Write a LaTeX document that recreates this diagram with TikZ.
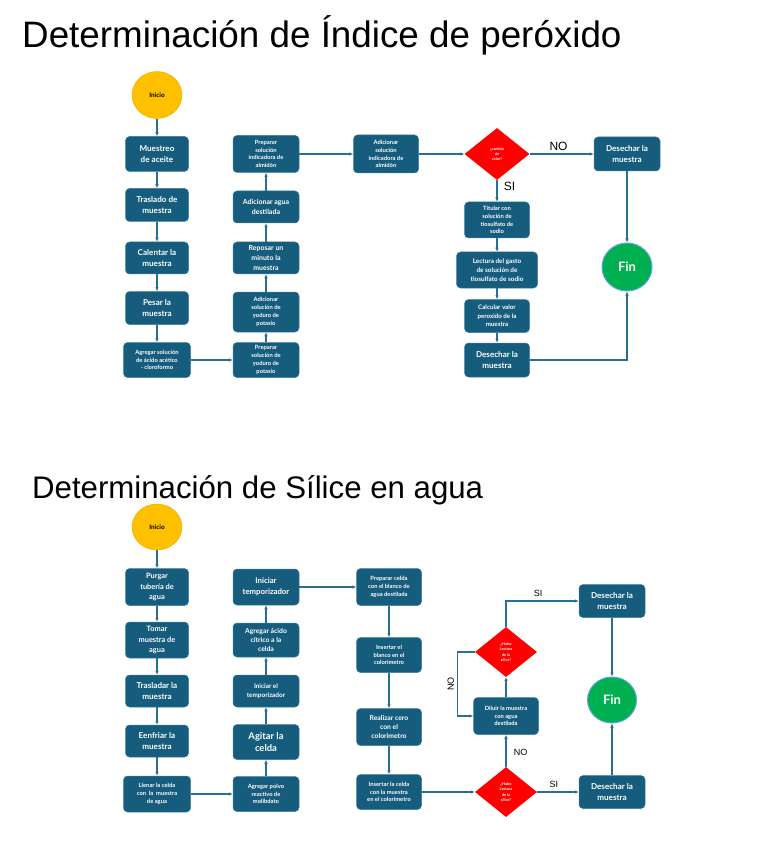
\documentclass[tikz,border=0pt]{standalone}
\usepackage{fontspec}
\setmainfont{Liberation Sans}
\newfontfamily\boxfont{Lato}
\usetikzlibrary{shapes.geometric,arrows.meta}
\definecolor{boxblue}{HTML}{165C7D}
\definecolor{boxedge}{HTML}{3D7FA0}
\definecolor{lineblue}{HTML}{2A6F93}
\definecolor{startyellow}{HTML}{FFC000}
\definecolor{fingreen}{HTML}{00B050}
\definecolor{finedge}{HTML}{5BA8D8}
\definecolor{decred}{HTML}{FF0000}
\tikzset{
  box/.style={draw=boxedge, line width=0.5pt, fill=boxblue, rounded corners=4pt, text=white, align=center, inner sep=1pt},
  fbig/.style={font=\boxfont\bfseries\fontsize{8.1}{11.2}\selectfont},
  fmed/.style={font=\boxfont\bfseries\fontsize{7}{9.8}\selectfont},
  fsmall/.style={font=\boxfont\bfseries\fontsize{5.8}{7.8}\selectfont},
  startnode/.style={ellipse, fill=startyellow, draw=startyellow!90!black, line width=0.4pt, text=black, font=\boxfont\bfseries\fontsize{6.4}{7}\selectfont, inner sep=0pt},
  finnode/.style={ellipse, fill=fingreen, draw=finedge, line width=1pt, text=white, font=\boxfont\bfseries\fontsize{13}{14}\selectfont, inner sep=0pt},
  decision/.style={diamond, fill=decred, draw=none, text=white, align=center, inner sep=0pt, font=\boxfont\bfseries\fontsize{3.8}{5.3}\selectfont},
  arr/.style={draw=lineblue, line width=1.1pt, -{Latex[length=4pt,width=3.6pt]}},
  lbl/.style={font=\fontsize{12}{14}\selectfont, text=black},
  lbls/.style={font=\fontsize{9}{11}\selectfont, text=black},
}
\begin{document}
\begin{tikzpicture}[x=1pt,y=-1pt]
\useasboundingbox (0,0) rectangle (768,866);
\fill[white] (0,0) rectangle (768,866);

% ---------------- Titles ----------------
\node[anchor=base west, inner sep=0pt, font=\fontsize{36.8}{40}\selectfont] (title1) at (22,48) {Determinación de Índice de peróxido};
\node[anchor=base west, inner sep=0pt, font=\fontsize{31.2}{36}\selectfont] (title2) at (32,498) {Determinación de Sílice en agua};

% ---------------- Top diagram ----------------
\node[startnode, minimum width=50, minimum height=47] (ini1) at (157,95) {Inicio};
\node[box, fbig, minimum width=63, minimum height=35] (m1) at (157,154) {Muestreo\\de aceite};
\node[box, fbig, minimum width=63, minimum height=33] (m2) at (157,205) {Traslado de\\muestra};
\node[box, fbig, minimum width=63, minimum height=32] (m3) at (157,258) {Calentar la\\muestra};
\node[box, fbig, minimum width=63, minimum height=33] (m4) at (157,308) {Pesar la\\muestra};
\node[box, fsmall, minimum width=67, minimum height=35] (m5) at (157,360) {Agregar solución\\de ácido acético\\- cloroformo};

\node[box, fsmall, minimum width=66, minimum height=35] (b5) at (266,360) {Preparar\\solución de\\yoduro de\\potasio};
\node[box, fsmall, minimum width=66, minimum height=40] (b4) at (266,312) {Adicionar\\solución de\\yoduro de\\potasio};
\node[box, fmed, minimum width=66, minimum height=32] (b3) at (266,258) {Reposar un\\minuto la\\muestra};
\node[box, fmed, minimum width=66, minimum height=32] (b2) at (266,207) {Adicionar agua\\destilada};
\node[box, fsmall, minimum width=66, minimum height=37] (b1) at (266,154) {Preparar\\solución\\indicadora de\\almidón};

\node[box, fsmall, minimum width=65, minimum height=38] (c1) at (386,154) {Adicionar\\solución\\indicadora de\\almidón};
\node[decision, minimum width=65, minimum height=52] (d1) at (497,154) {¿cambio\\de\\color?};
\node[box, fbig, minimum width=66, minimum height=34] (e1) at (627,154) {Desechar la\\muestra};

\node[box, fsmall, minimum width=65, minimum height=36] (t1) at (497,220) {Titular con\\solución de\\tiosulfato de\\sodio};
\node[box, fsmall, font=\boxfont\bfseries\fontsize{6.4}{8.8}\selectfont, minimum width=81, minimum height=36] (t2) at (497,270) {Lectura del gasto\\de solución de\\tiosulfato de sodio};
\node[box, fsmall, font=\boxfont\bfseries\fontsize{6.2}{8.6}\selectfont, minimum width=65, minimum height=33] (t3) at (497,316) {Calcular valor\\peroxido de la\\muestra};
\node[box, fbig, minimum width=65, minimum height=34] (t4) at (497,360) {Desechar la\\muestra};

\node[finnode, minimum width=50, minimum height=48] (fin1) at (627,267) {Fin};

\draw[arr] (ini1) -- (m1);
\draw[arr] (m1) -- (m2);
\draw[arr] (m2) -- (m3);
\draw[arr] (m3) -- (m4);
\draw[arr] (m4) -- (m5);
\draw[arr] (m5) -- (b5);
\draw[arr] (b5) -- (b4);
\draw[arr] (b4) -- (b3);
\draw[arr] (b3) -- (b2);
\draw[arr] (b2) -- (b1);
\draw[arr] (b1) -- (c1);
\draw[arr] (c1) -- (d1);
\draw[arr] (d1) -- node[lbl, above=-1pt, pos=0.45] {NO} (e1);
\draw[arr] (d1) -- node[lbl, right=3pt, pos=0.3] {SI} (t1);
\draw[arr] (t1) -- (t2);
\draw[arr] (t2) -- (t3);
\draw[arr] (t3) -- (t4);
\draw[arr] (e1) -- (fin1);
\draw[arr] (t4.east) -| (fin1.south);

% ---------------- Bottom diagram ----------------
\node[startnode, minimum width=50, minimum height=46] (ini2) at (157,527) {Inicio};
\node[box, fmed, font=\boxfont\bfseries\fontsize{7.4}{10.2}\selectfont, minimum width=63, minimum height=37] (s1) at (157,587) {Purgar\\tubería de\\agua};
\node[box, fmed, font=\boxfont\bfseries\fontsize{7.4}{10.2}\selectfont, minimum width=63, minimum height=36] (s2) at (157,640) {Tomar\\muestra de\\agua};
\node[box, fbig, minimum width=63, minimum height=32] (s3) at (157,691) {Trasladar la\\muestra};
\node[box, fbig, minimum width=63, minimum height=32] (s4) at (157,741) {Eenfriar la\\muestra};
\node[box, fsmall, minimum width=67, minimum height=36] (s5) at (157,794) {Llenar la celda\\con\ \ la\ \ muestra\\de agua};

\node[box, fsmall, minimum width=66, minimum height=35] (r5) at (266,794) {Agregar polvo\\reactivo de\\molibdato};
\node[box, fbig, font=\boxfont\bfseries\fontsize{9.4}{12.4}\selectfont, minimum width=66, minimum height=35] (r4) at (266,742) {Agitar la\\celda};
\node[box, fsmall, font=\boxfont\bfseries\fontsize{6.4}{9.2}\selectfont, minimum width=66, minimum height=32] (r3) at (266,691) {Iniciar el\\temporizador};
\node[box, fmed, font=\boxfont\bfseries\fontsize{6.8}{9.2}\selectfont, minimum width=66, minimum height=34] (r2) at (266,640) {Agregar ácido\\cítrico a la\\celda};
\node[box, fmed, font=\boxfont\bfseries\fontsize{7.8}{10.8}\selectfont, minimum width=66, minimum height=36] (r1) at (266,587) {Iniciar\\temporizador};

\node[box, fsmall, minimum width=65, minimum height=37] (p1) at (389,587) {Preparar celda\\con el blanco de\\agua destilada};
\node[box, fsmall, minimum width=65, minimum height=35] (p2) at (389,655) {Insertar el\\blanco en el\\colorimetro};
\node[box, fmed, font=\boxfont\bfseries\fontsize{6.8}{9.4}\selectfont, minimum width=65, minimum height=37] (p3) at (389,727) {Realizar cero\\con el\\colorimetro};
\node[box, fsmall, minimum width=65, minimum height=35] (p4) at (389,792) {Insertar la celda\\con la muestra\\en el colorimetro};

\node[decision, minimum width=62, minimum height=50] (q1) at (506,792) {¿Hubo\\Lectura\\de la\\sílice?};
\node[box, fsmall, minimum width=65, minimum height=37] (dil) at (506,716) {Diluir la muestra\\con agua\\destilada};
\node[decision, minimum width=62, minimum height=50] (q2) at (506,652) {¿Hubo\\Lectura\\de la\\sílice?};
\node[box, fbig, minimum width=66, minimum height=33] (z1) at (612,601) {Desechar la\\muestra};
\node[box, fbig, minimum width=66, minimum height=33] (z2) at (612,792) {Desechar la\\muestra};
\node[finnode, minimum width=49, minimum height=46] (fin2) at (612,700) {Fin};

\draw[arr] (ini2) -- (s1);
\draw[arr] (s1) -- (s2);
\draw[arr] (s2) -- (s3);
\draw[arr] (s3) -- (s4);
\draw[arr] (s4) -- (s5);
\draw[arr] (s5) -- (r5);
\draw[arr] (r5) -- (r4);
\draw[arr] (r4) -- (r3);
\draw[arr] (r3) -- (r2);
\draw[arr] (r2) -- (r1);
\draw[arr] (r1) -- (p1);
\draw[arr] (p1) -- (p2);
\draw[arr] (p2) -- (p3);
\draw[arr] (p3) -- (p4);
\draw[arr] (p4) -- (q1);
\draw[arr] (q1) -- node[lbls, right=4pt, pos=0.45] {NO} (dil);
\draw[arr] (dil) -- (q2);
\draw[arr] (q1) -- node[lbls, above=1pt, pos=0.4] {SI} (z2);
\draw[arr] (q2.north) |- node[lbls, above=1pt, pos=0.72] {SI} (z1.west);
\draw[arr] (q2.west) -- ++(-17,0) |- node[lbls, rotate=90, pos=0.25, anchor=south] {NO} (dil.west);
\draw[arr] (z1) -- (fin2);
\draw[arr] (z2) -- (fin2);
\end{tikzpicture}
\end{document}
